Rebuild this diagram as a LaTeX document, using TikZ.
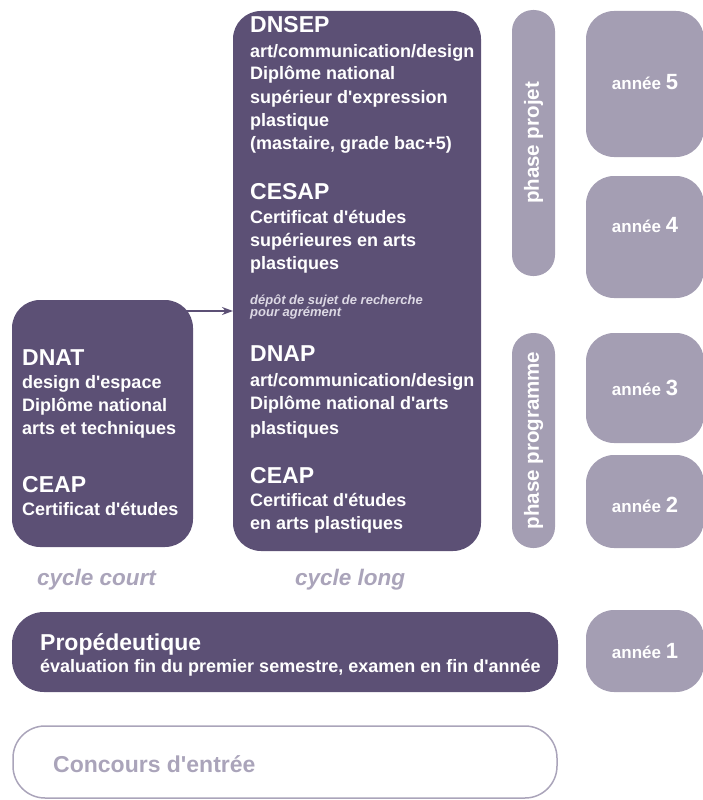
\documentclass[tikz,border=0pt]{standalone}
\usepackage{fontspec}
\setmainfont{Liberation Sans}
\usetikzlibrary{arrows.meta}
\definecolor{dark}{HTML}{5C5075}
\definecolor{light}{HTML}{A49EB3}
\definecolor{soft}{HTML}{AAA4BA}
\definecolor{notec}{HTML}{DCD8E4}
\newcommand{\myq}{\textquotesingle}
\begin{document}
\begin{tikzpicture}[x=1pt,y=-1pt,
  box/.style={inner sep=0pt,outer sep=0pt,draw=none},
  darkbox/.style={box,fill=dark,rounded corners=28pt},
  lightbox/.style={box,fill=light,rounded corners=28pt},
  pill/.style={box,fill=light,rounded corners=21pt},
  ttl/.style={anchor=base west,inner sep=0pt,text=white,font=\bfseries\fontsize{23}{23}\selectfont},
  txt/.style={anchor=base west,inner sep=0pt,text=white,font=\bfseries\fontsize{18}{22}\selectfont},
  note/.style={anchor=base west,inner sep=0pt,text=notec,font=\bfseries\itshape\fontsize{13}{12}\selectfont},
  cyc/.style={anchor=base west,inner sep=0pt,text=soft,font=\bfseries\itshape\fontsize{22.5}{22.5}\selectfont},
  yr/.style={anchor=base,inner sep=0pt,text=white,font=\bfseries\fontsize{17}{17}\selectfont},
  phase/.style={rotate=90,inner sep=0pt,text=white,font=\bfseries\fontsize{20.5}{20.5}\selectfont},
  arrowline/.style={draw=dark,line width=1.5pt,-{Stealth[length=11pt,width=8pt]}}
]
\clip (0,0) rectangle (703,800);

% main boxes
\node[darkbox,minimum width=248pt,minimum height=540pt] (long) at (357,281) {};
\node[darkbox,minimum width=181pt,minimum height=247pt] (short) at (102.5,423.5) {};
\node[darkbox,rounded corners=32pt,minimum width=546pt,minimum height=80pt] (prop) at (285,652) {};
\node[box,draw=soft,line width=1.5pt,rounded corners=32pt,minimum width=544pt,minimum height=72pt] (conc) at (285,762) {};

% right column
\node[pill,minimum width=43pt,minimum height=266pt] (pproj) at (533.5,143) {};
\node[pill,minimum width=43pt,minimum height=215pt] (pprog) at (533.5,440.5) {};
\node[lightbox,minimum width=118pt,minimum height=146pt] (a5) at (645,84) {};
\node[lightbox,minimum width=118pt,minimum height=122pt] (a4) at (645,237) {};
\node[lightbox,minimum width=118pt,minimum height=110pt] (a3) at (645,388) {};
\node[lightbox,minimum width=118pt,minimum height=93pt] (a2) at (645,501.5) {};
\node[lightbox,minimum width=118pt,minimum height=82pt] (a1) at (645,651) {};

% arrow
\coordinate (arrowstart) at (186,311);
\draw[arrowline] (arrowstart) -- (arrowstart -| long.west);

% long cycle text
\node[ttl] (dnsep) at (250,33) {DNSEP};
\node[txt] (dnsep1) at (250,57) {art/communication/design};
\node[txt] (dnsep2) at (250,80) {Diplôme national};
\node[txt] (dnsep3) at (250,103) {supérieur d\myq expression};
\node[txt] (dnsep4) at (250,126) {plastique};
\node[txt] (dnsep5) at (250,149) {(mastaire, grade bac+5)};
\node[ttl] (cesap) at (250,199) {CESAP};
\node[txt] (cesap1) at (250,223) {Certificat d\myq études};
\node[txt] (cesap2) at (250,246) {supérieures en arts};
\node[txt] (cesap3) at (250,269) {plastiques};
\node[note] (depot1) at (250,304) {dépôt de sujet de recherche};
\node[note] (depot2) at (250,316) {pour agrément};
\node[ttl] (dnap) at (250,361) {DNAP};
\node[txt] (dnap1) at (250,386) {art/communication/design};
\node[txt] (dnap2) at (250,409) {Diplôme national d\myq arts};
\node[txt] (dnap3) at (250,434) {plastiques};
\node[ttl] (ceap) at (250,483) {CEAP};
\node[txt] (ceap1) at (250,506) {Certificat d\myq études};
\node[txt] (ceap2) at (250,529) {en arts plastiques};

% short cycle text
\node[ttl] (dnat) at (22,365) {DNAT};
\node[txt] (dnat1) at (22,388) {design d\myq espace};
\node[txt] (dnat2) at (22,411) {Diplôme national};
\node[txt] (dnat3) at (22,434) {arts et techniques};
\node[ttl] (ceapc) at (22,492) {CEAP};
\node[txt] (ceapc1) at (22,515) {Certificat d\myq études};

% cycle labels
\node[cyc] (court) at (37,585) {cycle court};
\node[cyc] (longlbl) at (295,585) {cycle long};

% propedeutique
\node[anchor=base west,inner sep=0pt,text=white,font=\bfseries\fontsize{23}{23}\selectfont] (proptitle) at (40,650) {Propédeutique};
\node[anchor=base west,inner sep=0pt,text=white,font=\bfseries\fontsize{18}{18}\selectfont] (propsub) at (40,672) {évaluation fin du premier semestre, examen en fin d\myq année};
\node[anchor=base west,inner sep=0pt,text=soft,font=\bfseries\fontsize{23}{23}\selectfont] (conctext) at (53,772) {Concours d\myq entrée};

% phases
\node[phase] (pprojt) at (pproj.center) {phase projet};
\node[phase] (pprogt) at (pprog.center) {phase programme};

% years
\node[yr] (y5) at (645,89) {année \fontsize{22}{22}\selectfont 5};
\node[yr] (y4) at (645,232) {année \fontsize{22}{22}\selectfont 4};
\node[yr] (y3) at (645,395) {année \fontsize{22}{22}\selectfont 3};
\node[yr] (y2) at (645,512) {année \fontsize{22}{22}\selectfont 2};
\node[yr] (y1) at (645,658) {année \fontsize{22}{22}\selectfont 1};
\end{tikzpicture}
\end{document}
